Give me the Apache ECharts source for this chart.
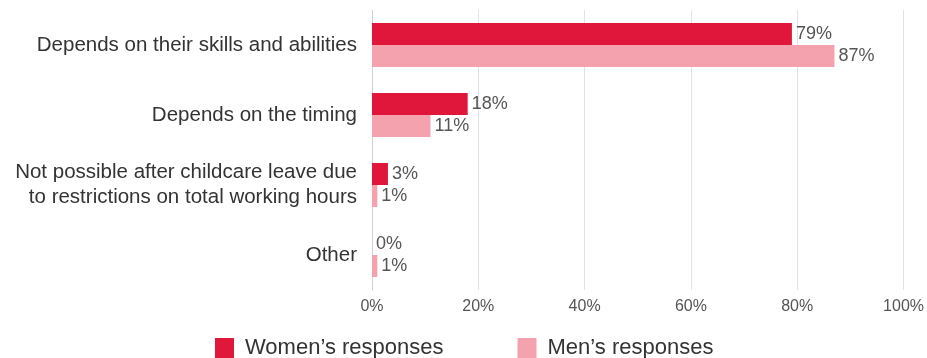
<!DOCTYPE html>
<html>
<head>
<meta charset="utf-8">
<script src="https://cdn.jsdelivr.net/npm/echarts@6/dist/echarts.min.js"></script>
<style>
html, body { margin: 0; padding: 0; background: #fff; }
#chart { width: 927px; height: 358px; }
</style>
</head>
<body>
<div id="chart"></div>
<script>
var categories = [
    'Depends on their skills and abilities',
    'Depends on the timing',
    'Not possible after childcare leave due\nto restrictions on total working hours',
    'Other'
];
var women = [79, 18, 3, 0];
var men = [87, 11, 1, 1];
var xTicks = [0, 20, 40, 60, 80, 100];

var myChart = echarts.init(document.getElementById('chart'));
var labelStyle = {
    show: true,
    position: 'right',
    distance: 4,
    formatter: '{c}%',
    color: '#555',
    fontSize: 18,
    fontFamily: 'Liberation Sans, Arial, sans-serif'
};
option = {
    animation: false,
    textStyle: { fontFamily: 'Liberation Sans, Arial, sans-serif' },
    legend: {
        data: ['Women\u2019s responses', 'Men\u2019s responses'],
        left: 210,
        top: 332,
        itemWidth: 19,
        itemHeight: 20,
        itemGap: 74,
        icon: 'rect',
        textStyle: { fontSize: 22, color: '#333', padding: [0, 0, 0, 6] }
    },
    grid: { left: 372, right: 22, top: 10, bottom: 68 },
    xAxis: {
        type: 'value',
        min: xTicks[0],
        max: xTicks[xTicks.length - 1],
        interval: 20,
        axisLabel: { formatter: '{value}%', color: '#555', fontSize: 16, margin: 9 },
        axisLine: { show: false },
        axisTick: { show: false },
        splitLine: { lineStyle: { color: '#e3e3e3' } }
    },
    yAxis: {
        type: 'category',
        inverse: true,
        data: categories,
        axisTick: { show: false },
        axisLine: { lineStyle: { color: '#d0d0d0' } },
        axisLabel: { color: '#333', fontSize: 20.5, margin: 15, lineHeight: 25, align: 'right' }
    },
    series: [{
            name: 'Women\u2019s responses',
            type: 'bar',
            data: women,
            barWidth: 22,
            barGap: '0%',
            color: '#E0173A',
            label: labelStyle
        },
        {
            name: 'Men\u2019s responses',
            type: 'bar',
            data: men,
            barWidth: 22,
            color: '#F4A3AE',
            label: labelStyle
        }
    ]
};
myChart.setOption(option);
</script>
</body>
</html>
